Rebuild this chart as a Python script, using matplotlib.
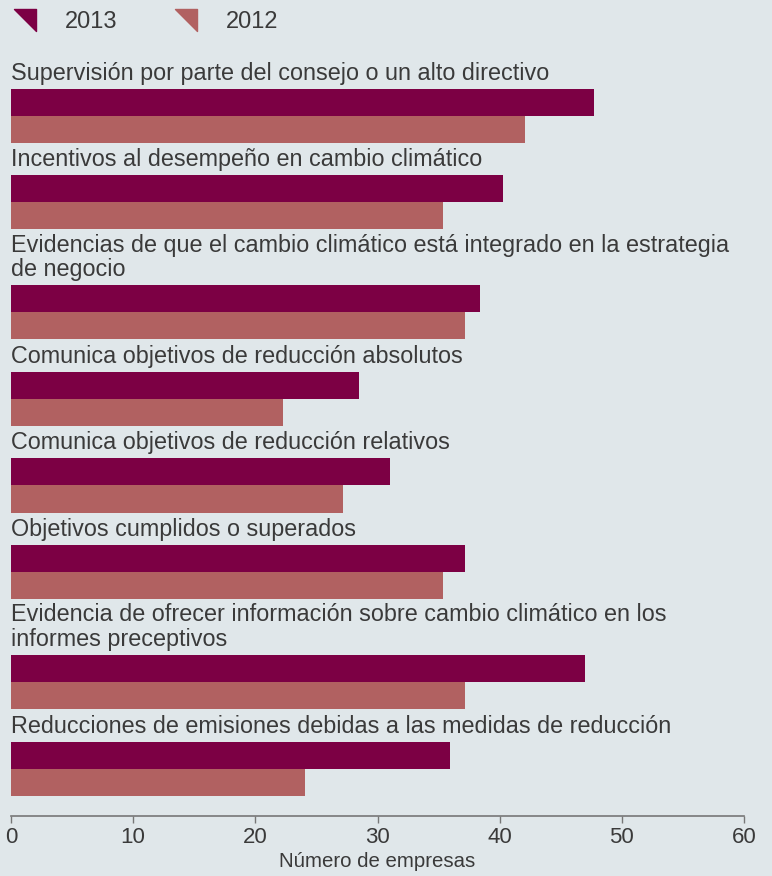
import matplotlib.pyplot as plt
from matplotlib.lines import Line2D
from matplotlib.path import Path

plt.rcParams['font.family'] = ['Liberation Sans', 'DejaVu Sans']

# datos del grafico
categories = [
    'Supervisión por parte del consejo o un alto directivo',
    'Incentivos al desempeño en cambio climático',
    'Evidencias de que el cambio climático está integrado en la estrategia\nde negocio',
    'Comunica objetivos de reducción absolutos',
    'Comunica objetivos de reducción relativos',
    'Objetivos cumplidos o superados',
    'Evidencia de ofrecer información sobre cambio climático en los\ninformes preceptivos',
    'Reducciones de emisiones debidas a las medidas de reducción',
]
values_2013 = [47.7, 40.3, 38.4, 28.5, 31.0, 37.2, 47.0, 35.9]
values_2012 = [42.1, 35.4, 37.2, 22.3, 27.2, 35.4, 37.2, 24.1]
years = ['2013', '2012']
ticks = [0, 10, 20, 30, 40, 50, 60]

c2013 = '#7c0044'
c2012 = '#b16161'
bg = '#e0e7ea'
txt = '#3a3a3a'

W, H = 772, 876
fig = plt.figure(figsize=(W / 100, H / 100), dpi=100, facecolor=bg)
# y de los ejes en pixeles (0 arriba, 816 = eje x)
ax = fig.add_axes([11 / W, (H - 816) / H, 733 / W, 816 / H])
ax.set_facecolor(bg)

bar_h = 27
y = 56.0
for cat, a, b in zip(categories, values_2013, values_2012):
    nl = cat.count('\n') + 1
    top = y + 32.7 + 23 * (nl - 1)
    ax.barh(top, a, height=bar_h, align='edge', color=c2013)
    ax.barh(top + bar_h, b, height=bar_h, align='edge', color=c2012)
    ax.text(0, top - 9, cat, fontsize=16.8, color=txt, va='baseline', ha='left',
            linespacing=1.08, clip_on=False)
    y = top + 2 * bar_h

ax.set_xlim(0, 60)
ax.set_ylim(816, 0)
ax.set_xticks(ticks)
ax.set_yticks([])
for s in ['top', 'right', 'left']:
    ax.spines[s].set_visible(False)
ax.spines['bottom'].set_color('#777777')
ax.spines['bottom'].set_linewidth(1.2)
ax.tick_params(axis='x', direction='out', length=5, width=1, color='#777777',
               labelsize=16, labelcolor=txt, pad=3)
ax.set_xlabel('Número de empresas', fontsize=14.7, color=txt, labelpad=3)

# leyenda con triangulos
tri = Path([(-1, 1), (1, 1), (1, -1), (-1, 1)],
           [Path.MOVETO, Path.LINETO, Path.LINETO, Path.CLOSEPOLY])
handles = [Line2D([], [], marker=tri, color=c, linestyle='none', markersize=16.5)
           for c in [c2013, c2012]]
fig.legend(handles, years, loc='upper left', bbox_to_anchor=(13 / W, 1 - 11 / H),
           ncol=2, frameon=False, fontsize=17, labelcolor=txt, borderpad=0,
           borderaxespad=0, handlelength=1.0, handletextpad=1.2,
           columnspacing=2.4)

plt.savefig('out.png', dpi=100, facecolor=bg)
